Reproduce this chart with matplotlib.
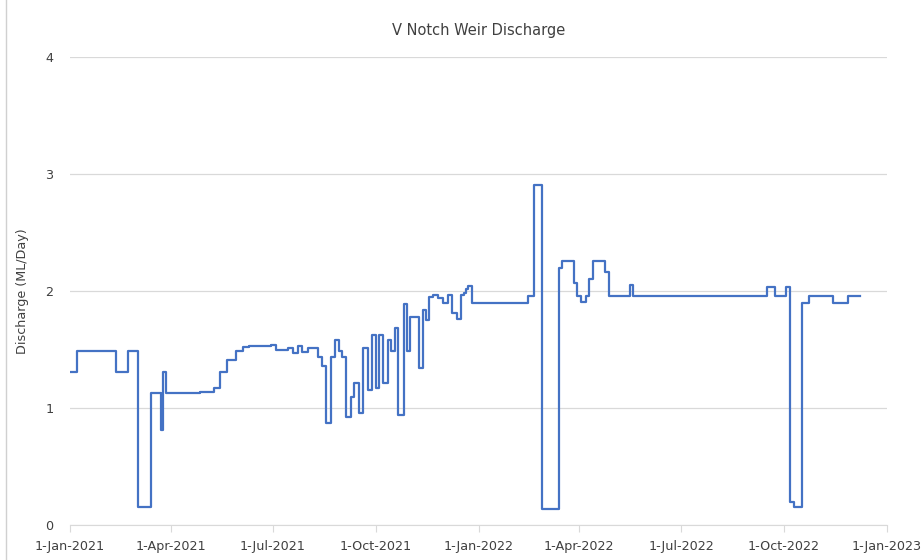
import numpy as np
import pandas as pd
import matplotlib
matplotlib.use("Agg")
import matplotlib.pyplot as plt
import matplotlib.dates as mdates
from matplotlib.lines import Line2D

# day offsets from 1-Jan-2021 where the discharge level changes, and the new level
day_offsets = [0, 6, 41, 52, 61, 72, 81, 83, 86, 116, 129, 134, 140, 148, 155, 160,
               180, 184, 195, 199, 204, 207, 213, 222, 225, 229, 233, 237, 240, 243,
               247, 251, 254, 258, 262, 266, 270, 273, 276, 280, 284, 287, 290, 293,
               298, 301, 304, 312, 315, 318, 321, 324, 329, 333, 338, 341, 346, 349,
               352, 354, 356, 359, 409, 415, 422, 437, 440, 450, 453, 457, 461, 464,
               467, 478, 482, 500, 503, 623, 630, 640, 643, 647, 654, 660, 682, 695, 706]
discharge = [1.31, 1.49, 1.31, 1.49, 0.15, 1.13, 0.81, 1.31, 1.13, 1.14, 1.17, 1.31,
             1.41, 1.49, 1.52, 1.53, 1.54, 1.50, 1.51, 1.47, 1.53, 1.48, 1.51, 1.44,
             1.36, 0.87, 1.44, 1.58, 1.49, 1.44, 0.92, 1.09, 1.21, 0.96, 1.51, 1.15,
             1.62, 1.17, 1.62, 1.21, 1.58, 1.49, 1.68, 0.94, 1.89, 1.49, 1.78, 1.34,
             1.84, 1.75, 1.95, 1.97, 1.94, 1.90, 1.97, 1.81, 1.76, 1.97, 1.98, 2.02,
             2.04, 1.90, 1.96, 2.91, 0.14, 2.20, 2.26, 2.07, 1.96, 1.91, 1.96, 2.10,
             2.26, 2.16, 1.96, 2.05, 1.96, 2.03, 1.96, 2.03, 0.20, 0.15, 1.90, 1.96,
             1.90, 1.96, 1.96]

tick_dates = ["2021-01-01", "2021-04-01", "2021-07-01", "2021-10-01", "2022-01-01",
              "2022-04-01", "2022-07-01", "2022-10-01", "2023-01-01"]

dates = pd.Timestamp("2021-01-01") + pd.to_timedelta(day_offsets, unit="D")
ticks = pd.to_datetime(tick_dates)

fig = plt.figure(figsize=(9.23, 5.6), dpi=100)
ax = fig.add_axes([70/923, 35/560, 817/923, 468/560])

ax.plot(dates, discharge, drawstyle="steps-post", color="#4472C4", lw=1.6)

ax.set_xlim(ticks[0], ticks[-1])
ax.set_ylim(0, 4)
ax.set_yticks([0, 1, 2, 3, 4])
ax.set_xticks(ticks)
ax.xaxis.set_major_formatter(mdates.DateFormatter("%-d-%b-%Y"))

ax.grid(axis="y", color="#d9d9d9", lw=0.9)
ax.set_axisbelow(True)
for s in ["top", "right", "left"]:
    ax.spines[s].set_visible(False)
ax.spines["bottom"].set_color("#d9d9d9")
ax.tick_params(axis="y", length=0, labelsize=9.2, labelcolor="#404040", pad=12)
ax.tick_params(axis="x", length=5, color="#d9d9d9", labelsize=9.2, labelcolor="#404040", pad=6)

ax.set_ylabel("Discharge (ML/Day)", fontsize=9.2, color="#404040", labelpad=12)
ax.set_title("V Notch Weir Discharge", fontsize=10.5, color="#404040", pad=16)

fig.add_artist(Line2D([6/923, 6/923], [0, 1], transform=fig.transFigure, color="#d0d0d0", lw=1))

fig.savefig("out.png", dpi=100)
